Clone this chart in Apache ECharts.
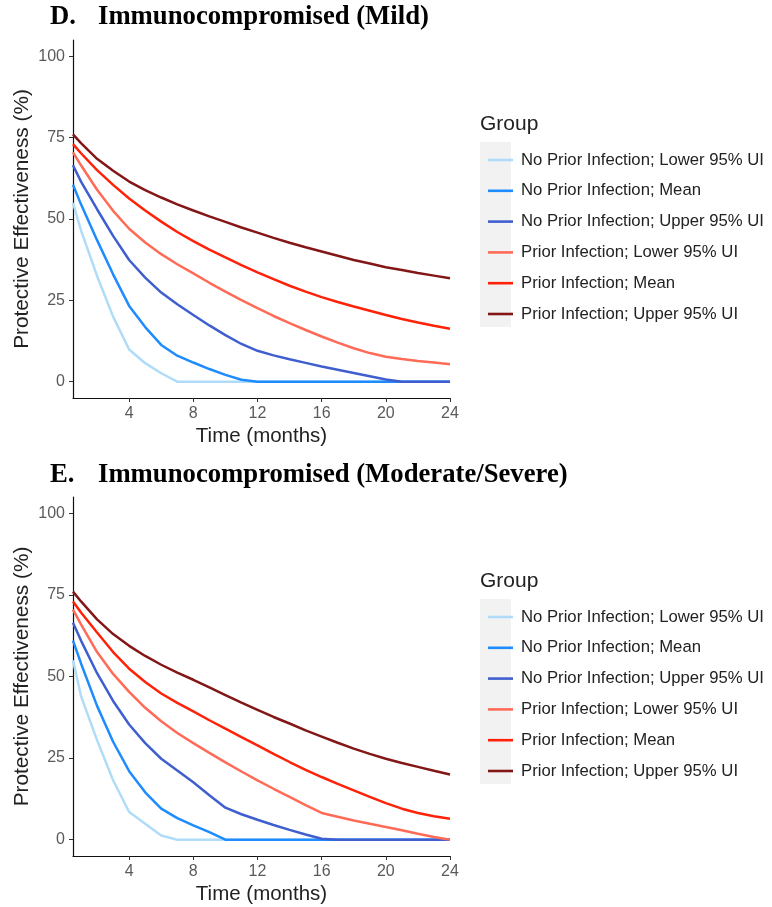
<!DOCTYPE html>
<html>
<head>
	<meta charset="utf-8">
	<title>Protective Effectiveness</title>
	<script src="https://cdn.jsdelivr.net/npm/echarts@6/dist/echarts.min.js"></script>
	<style type="text/css">
		html, body { margin: 0; padding: 0; background-color: #fff; }
		#chartBox { width: 772px; height: 907px; }
	</style>
</head>
<body>
<div id="chartBox"></div>

<script>
	// months since dose (first point at 0.5)
	var months = [0.5, 1, 2, 3, 4, 5, 6, 7, 8, 9, 10, 11, 12, 13, 14, 15, 16, 17, 18, 19, 20, 21, 22, 23, 24];

	var groupNames = [
		'No Prior Infection; Lower 95% UI',
		'No Prior Infection; Mean',
		'No Prior Infection; Upper 95% UI',
		'Prior Infection; Lower 95% UI',
		'Prior Infection; Mean',
		'Prior Infection; Upper 95% UI'
	];
	var groupColors = ['#b0dcfa', '#1e8cff', '#3f5fcf', '#ff6b57', '#ff2208', '#831616'];

	var xTicks = [4, 8, 12, 16, 20, 24];
	var yTicks = [0, 25, 50, 75, 100];

	// D. mild
	var dNoPriorLower = [55, 46.5, 32.5, 20, 9.9, 5.7, 2.6, 0, 0, 0, 0, 0, 0, 0, 0, 0, 0, 0, 0, 0, 0, 0, 0, 0, 0];
	var dNoPriorMean = [60.5, 54.5, 43.5, 33, 23.3, 16.8, 11.3, 8, 5.9, 3.9, 2.1, 0.6, 0, 0, 0, 0, 0, 0, 0, 0, 0, 0, 0, 0, 0];
	var dNoPriorUpper = [66.5, 61.5, 53, 44.8, 37.4, 32, 27.4, 23.8, 20.5, 17.3, 14.3, 11.6, 9.5, 8.1, 6.9, 5.8, 4.7, 3.7, 2.7, 1.7, 0.7, 0, 0, 0, 0];
	var dPriorLower = [70.5, 66.5, 59, 52.5, 47, 42.8, 39.2, 36.1, 33.3, 30.4, 27.7, 25.1, 22.6, 20.2, 18, 15.9, 13.9, 12, 10.3, 8.8, 7.7, 7, 6.4, 5.9, 5.4];
	var dPriorMean = [73, 70.2, 65, 60.5, 56.3, 52.6, 49.2, 46, 43.2, 40.6, 38.2, 35.8, 33.6, 31.5, 29.5, 27.7, 26, 24.5, 23.1, 21.8, 20.5, 19.3, 18.2, 17.2, 16.3];
	var dPriorUpper = [76, 73.3, 68.5, 64.8, 61.5, 58.9, 56.6, 54.5, 52.6, 50.8, 49.1, 47.4, 45.8, 44.2, 42.7, 41.3, 40, 38.7, 37.4, 36.3, 35.2, 34.3, 33.4, 32.6, 31.8];

	// E. moderate/severe
	var eNoPriorLower = [55, 44, 30.5, 18.2, 8.5, 4.9, 1.3, 0, 0, 0, 0, 0, 0, 0, 0, 0, 0, 0, 0, 0, 0, 0, 0, 0, 0];
	var eNoPriorMean = [61, 54, 41, 30, 21, 14.5, 9.5, 6.6, 4.4, 2.3, 0, 0, 0, 0, 0, 0, 0, 0, 0, 0, 0, 0, 0, 0, 0];
	var eNoPriorUpper = [66.5, 61, 51, 42.5, 35.3, 29.6, 24.8, 21.2, 17.6, 13.6, 9.8, 7.8, 6.1, 4.5, 3, 1.6, 0.3, 0, 0, 0, 0, 0, 0, 0, 0];
	var ePriorLower = [70.5, 66, 57.5, 50.8, 45.3, 40.4, 36.3, 32.7, 29.6, 26.6, 23.7, 20.9, 18.2, 15.6, 13.1, 10.6, 8.2, 7, 5.9, 4.9, 3.9, 2.9, 1.8, 0.8, 0];
	var ePriorMean = [73, 69.6, 63.5, 57.5, 52.4, 48.3, 44.8, 41.9, 39.3, 36.6, 34, 31.4, 28.9, 26.3, 23.8, 21.4, 19.2, 17.1, 15.1, 13.1, 11.2, 9.5, 8.2, 7.2, 6.4];
	var ePriorUpper = [76, 73, 67.5, 63, 59.4, 56.3, 53.6, 51.2, 49, 46.7, 44.3, 42, 39.8, 37.6, 35.6, 33.5, 31.6, 29.7, 27.9, 26.3, 24.8, 23.5, 22.3, 21.1, 20];

	var panelD = [dNoPriorLower, dNoPriorMean, dNoPriorUpper, dPriorLower, dPriorMean, dPriorUpper];
	var panelE = [eNoPriorLower, eNoPriorMean, eNoPriorUpper, ePriorLower, ePriorMean, ePriorUpper];

	var sans = 'Liberation Sans, Arial, sans-serif';
	var serif = 'Liberation Serif, Times New Roman, serif';

	function pairs(vals) {
		return months.map(function (m, i) { return [m, vals[i]]; });
	}

	function makeX(idx) {
		return {
			type: 'value', gridIndex: idx, min: 0.5, max: 24,
			name: 'Time (months)', nameLocation: 'middle', nameGap: 28,
			nameTextStyle: { color: '#222', fontSize: 20.5, fontFamily: sans },
			axisLine: { onZero: false, lineStyle: { color: '#111', width: 1.2 } },
			axisTick: { customValues: xTicks, length: 4, lineStyle: { color: '#333' } },
			axisLabel: { customValues: xTicks, margin: 8, color: '#5a5a5a', fontSize: 16, fontFamily: sans },
			splitLine: { show: false }
		};
	}

	function makeY(idx) {
		return {
			type: 'value', gridIndex: idx, min: -5, max: 105,
			name: 'Protective Effectiveness (%)', nameLocation: 'middle', nameGap: 40,
			nameTextStyle: { color: '#222', fontSize: 20.8, fontFamily: sans },
			axisLine: { onZero: false, lineStyle: { color: '#111', width: 1.2 } },
			axisTick: { customValues: yTicks, length: 4, lineStyle: { color: '#333' } },
			axisLabel: { customValues: yTicks, margin: 8, color: '#5a5a5a', fontSize: 16, fontFamily: sans },
			splitLine: { show: false }
		};
	}

	function makeLegend(top) {
		return {
			left: 483, top: top, orient: 'vertical',
			data: groupNames, icon: 'rect', itemWidth: 25, itemHeight: 2.6,
			itemGap: 10.8, selectedMode: false,
			textStyle: { color: '#222', fontSize: 16.7, fontFamily: sans, lineHeight: 20, padding: [0, 0, 0, 3] }
		};
	}

	var series = [];
	[panelD, panelE].forEach(function (panel, p) {
		panel.forEach(function (vals, i) {
			series.push({
				type: 'line', name: groupNames[i], xAxisIndex: p, yAxisIndex: p,
				data: pairs(vals), showSymbol: false, symbol: 'none',
				color: groupColors[i],
				lineStyle: { color: groupColors[i], width: 2.5 },
				animation: false
			});
		});
	});

	function textEl(x, y, txt, font, fill) {
		return { type: 'text', x: x, y: y, style: { text: txt, font: font, fill: fill, verticalAlign: 'middle' } };
	}

	var chart = echarts.init(document.getElementById('chartBox'));
	chart.setOption({
		backgroundColor: '#fff',
		animation: false,
		grid: [
			{ left: 73, top: 40, width: 377, height: 358 },
			{ left: 73, top: 497, width: 377, height: 359 }
		],
		xAxis: [makeX(0), makeX(1)],
		yAxis: [makeY(0), makeY(1)],
		legend: [makeLegend(145), makeLegend(602)],
		graphic: [
			// legend key backdrop
			{ type: 'rect', shape: { x: 480, y: 142, width: 31, height: 185 }, style: { fill: '#f2f2f2' }, z: -1 },
			{ type: 'rect', shape: { x: 480, y: 599, width: 31, height: 185 }, style: { fill: '#f2f2f2' }, z: -1 },
			textEl(480, 124, 'Group', '21px ' + sans, '#222'),
			textEl(480, 581, 'Group', '21px ' + sans, '#222'),
			textEl(50, 17, 'D.', 'bold 26.7px ' + serif, '#000'),
			textEl(98, 17, 'Immunocompromised (Mild)', 'bold 26.7px ' + serif, '#000'),
			textEl(50, 475, 'E.', 'bold 26.7px ' + serif, '#000'),
			textEl(98, 475, 'Immunocompromised (Moderate/Severe)', 'bold 26.7px ' + serif, '#000')
		],
		series: series
	});
</script>
</body>
</html>
